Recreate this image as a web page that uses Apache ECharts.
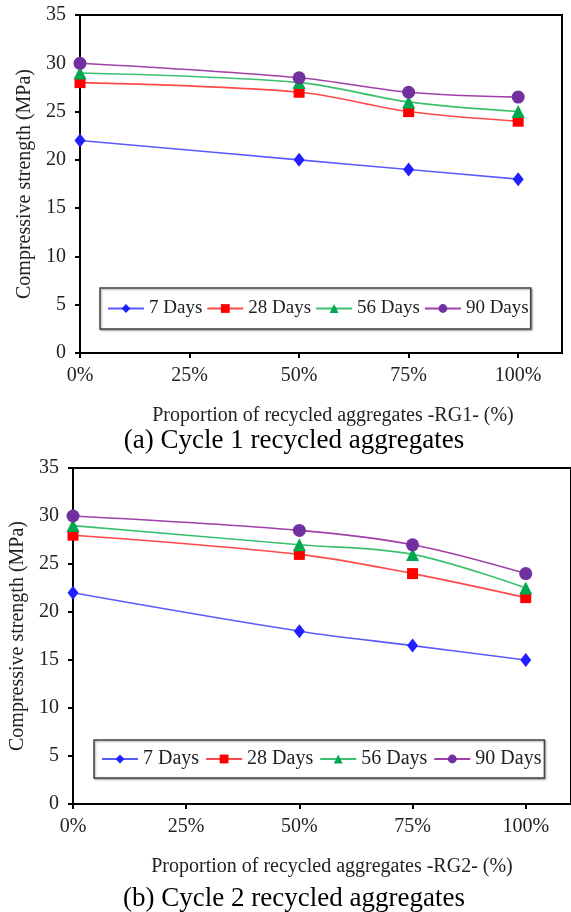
<!DOCTYPE html>
<html>
<head>
<meta charset="utf-8">
<script src="https://cdn.jsdelivr.net/npm/echarts@6/dist/echarts.min.js"></script>
<style>html,body{margin:0;padding:0;background:#fff;}#c{width:571px;height:912px;}</style>
</head>
<body>
<div id="c"></div>
<script>
const xValues = [0, 50, 75, 100];
const xTicks = [0, 25, 50, 75, 100];
const yTicks = [0, 5, 10, 15, 20, 25, 30, 35];
const seriesNames = ['7 Days', '28 Days', '56 Days', '90 Days'];
const rg1_7 = [22, 20, 19, 18];
const rg1_28 = [28, 27, 25, 24];
const rg1_56 = [29, 28, 26, 25];
const rg1_90 = [30, 28.5, 27, 26.5];
const rg2_7 = [22, 18, 16.5, 15];
const rg2_28 = [28, 26, 24, 21.5];
const rg2_56 = [29, 27, 26, 22.5];
const rg2_90 = [30, 28.5, 27, 24];
const xTitle1 = 'Proportion of recycled aggregates -RG1- (%)';
const xTitle2 = 'Proportion of recycled aggregates -RG2- (%)';
const yTitle = 'Compressive strength (MPa)';
const caption1 = '(a) Cycle 1 recycled aggregates';
const caption2 = '(b) Cycle 2 recycled aggregates';

const FONT = '"Liberation Serif", "Times New Roman", serif';
const styles = [
  {symbol: 'diamond', size: [11, 14], marker: '#1f1fff', line: '#5a5aff'},
  {symbol: 'rect', size: 11, marker: '#ff0000', line: '#ff4a4a'},
  {symbol: 'triangle', size: 13, marker: '#00a84f', line: '#3cc070'},
  {symbol: 'circle', size: 13, marker: '#7030a0', line: '#a040a8'}
];

function xAxis(gi, name, shift) {
  return {
    type: 'value', gridIndex: gi, min: 0, max: 110, interval: 25,
    name: name, nameLocation: 'middle', nameGap: 53,
    nameTextStyle: {fontFamily: FONT, fontSize: 20, color: '#222', padding: [0, 0, 0, shift]},
    axisLine: {lineStyle: {color: '#000', width: 2}},
    axisTick: {show: true, length: 5, inside: false, customValues: xTicks, lineStyle: {color: '#000', width: 2}},
    axisLabel: {fontFamily: FONT, fontSize: 20, color: '#222', margin: 13, customValues: xTicks,
      formatter: v => v + '%'},
    splitLine: {show: false}
  };
}
function yAxis(gi, gap) {
  return {
    type: 'value', gridIndex: gi, min: 0, max: 35, interval: 5,
    name: yTitle, nameLocation: 'middle', nameGap: gap, nameRotate: 90,
    nameTextStyle: {fontFamily: FONT, fontSize: 20, color: '#222'},
    axisLine: {show: true, lineStyle: {color: '#000', width: 2}},
    axisTick: {show: true, length: 5, lineStyle: {color: '#000', width: 2}},
    axisLabel: {fontFamily: FONT, fontSize: 20, color: '#222', margin: 14},
    splitLine: {show: false}
  };
}
function mkSeries(gi, arrs) {
  return arrs.map((vals, i) => ({
    name: seriesNames[i], type: 'line', xAxisIndex: gi, yAxisIndex: gi,
    data: xValues.map((x, k) => [x, vals[k]]),
    smooth: 0.35,
    symbol: styles[i].symbol, symbolSize: styles[i].size,
    itemStyle: {color: styles[i].marker},
    lineStyle: {color: styles[i].line, width: 1.6},
    z: 3 + i
  }));
}
function legend(left, top, fs, gap, pad) {
  return {
    left: left, top: top, orient: 'horizontal', data: seriesNames,
    itemWidth: 36, itemHeight: 11, itemGap: gap,
    padding: pad,
    backgroundColor: '#fff', borderColor: '#444', borderWidth: 1.5,
    shadowColor: 'rgba(0,0,0,0.35)', shadowOffsetX: 1, shadowOffsetY: 1, shadowBlur: 2,
    textStyle: {fontFamily: FONT, fontSize: fs, color: '#222'},
    selectedMode: false
  };
}

const chart = echarts.init(document.getElementById('c'), null, {renderer: 'canvas'});
chart.setOption({
  animation: false,
  backgroundColor: '#fff',
  grid: [
    {left: 80, right: 9, top: 15, bottom: 559, show: true, borderColor: '#000', borderWidth: 2, containLabel: false},
    {left: 73, right: -2, top: 468, bottom: 108, show: true, borderColor: '#000', borderWidth: 2, containLabel: false}
  ],
  xAxis: [xAxis(0, xTitle1, 24), xAxis(1, xTitle2, 20)],
  yAxis: [yAxis(0, 36), yAxis(1, 39)],
  legend: [legend(100, 288, 19, 4, [11, 2, 11, 7]), legend(94, 740, 20, 6, [9, 3, 9, 7])],
  series: mkSeries(0, [rg1_7, rg1_28, rg1_56, rg1_90]).concat(mkSeries(1, [rg2_7, rg2_28, rg2_56, rg2_90])),
  graphic: [
    {type: 'text', x: 294, y: 441, style: {text: caption1, font: '27px ' + FONT, fill: '#000', textAlign: 'center', textVerticalAlign: 'middle'}},
    {type: 'text', x: 294, y: 899, style: {text: caption2, font: '27px ' + FONT, fill: '#000', textAlign: 'center', textVerticalAlign: 'middle'}}
  ]
});
</script>
</body>
</html>
